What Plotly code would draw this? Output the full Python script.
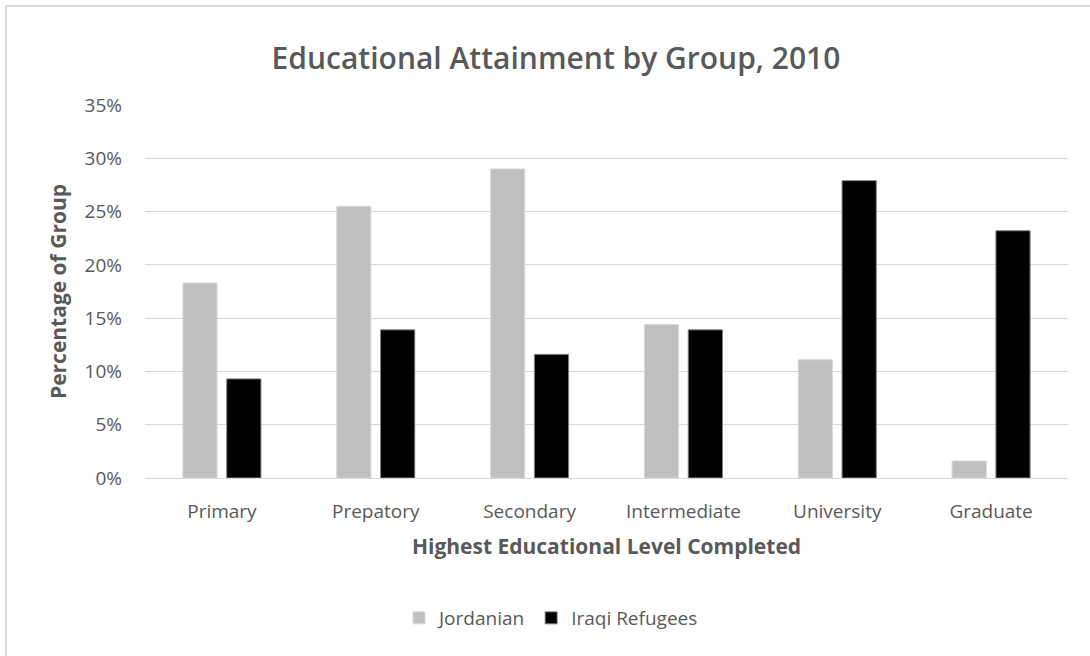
import plotly.graph_objects as go

# Share of each group by highest educational level completed (percent)
levels = ["Primary", "Prepatory", "Secondary", "Intermediate", "University", "Graduate"]
jordanian = [18.3, 25.5, 29.0, 14.4, 11.1, 1.6]
iraqi_refugees = [9.3, 13.9, 11.6, 13.9, 27.9, 23.2]
y_ticks = [0, 5, 10, 15, 20, 25, 30, 35]
y_tick_labels = [f"{v}%" for v in y_ticks]

FONT = "Open Sans"
TEXT = "#595959"
FRAME = "#d9d9d9"

fig = go.Figure()
fig.add_trace(go.Bar(
    name="Jordanian", x=levels, y=jordanian,
    marker=dict(color="#bfbfbf", line=dict(color="#d9d9d9", width=1)),
))
fig.add_trace(go.Bar(
    name="Iraqi Refugees", x=levels, y=iraqi_refugees,
    marker=dict(color="#000000", line=dict(color="#7f7f7f", width=1)),
))

W, H = 1090, 656
L, R, T, B = 145, 22, 105, 178
pw, ph = W - L - R, H - T - B

fig.update_layout(
    width=W, height=H,
    paper_bgcolor="white", plot_bgcolor="white",
    margin=dict(l=L, r=R, t=T, b=B),
    barmode="group", bargap=0.43, bargroupgap=0.22,
    font=dict(family=FONT, color=TEXT),
    title=dict(
        text="Educational Attainment by Group, 2010",
        x=556 / W, xanchor="center", y=1 - 58 / H, yanchor="middle",
        font=dict(family=FONT, size=30, color=TEXT, weight=600),
    ),
    xaxis=dict(
        tickfont=dict(size=19, color=TEXT),
        showline=False, ticks="", showgrid=False,
        ticklabelstandoff=20,
        title=dict(text="<b>Highest Educational Level Completed</b>",
                   font=dict(size=21, color=TEXT), standoff=16),
    ),
    yaxis=dict(
        range=[0, 35], tickvals=y_ticks, ticktext=y_tick_labels,
        tickfont=dict(size=19, color=TEXT),
        showgrid=True, gridcolor="#d9d9d9", gridwidth=1,
        zeroline=True, zerolinecolor="#d9d9d9", zerolinewidth=1,
        ticks="", ticklabelstandoff=22,
        title=dict(text="<b>Percentage of Group</b>",
                   font=dict(size=21, color=TEXT), standoff=12),
    ),
    legend=dict(
        orientation="h", x=(551 - L) / pw, xanchor="center",
        y=-(618 - (H - B)) / ph, yanchor="middle",
        font=dict(size=19, color=TEXT), itemwidth=30,
        traceorder="normal",
    ),
)

# Frame lines along the top and left edges of the canvas
top = (H - B - 6) / ph
left = (6 - L) / pw
fig.add_shape(type="line", xref="paper", yref="paper",
              x0=left, x1=(W - L) / pw, y0=top, y1=top,
              line=dict(color=FRAME, width=2))
fig.add_shape(type="line", xref="paper", yref="paper",
              x0=left, x1=left, y0=-B / ph, y1=top,
              line=dict(color=FRAME, width=2))

fig.write_html("out.html")
